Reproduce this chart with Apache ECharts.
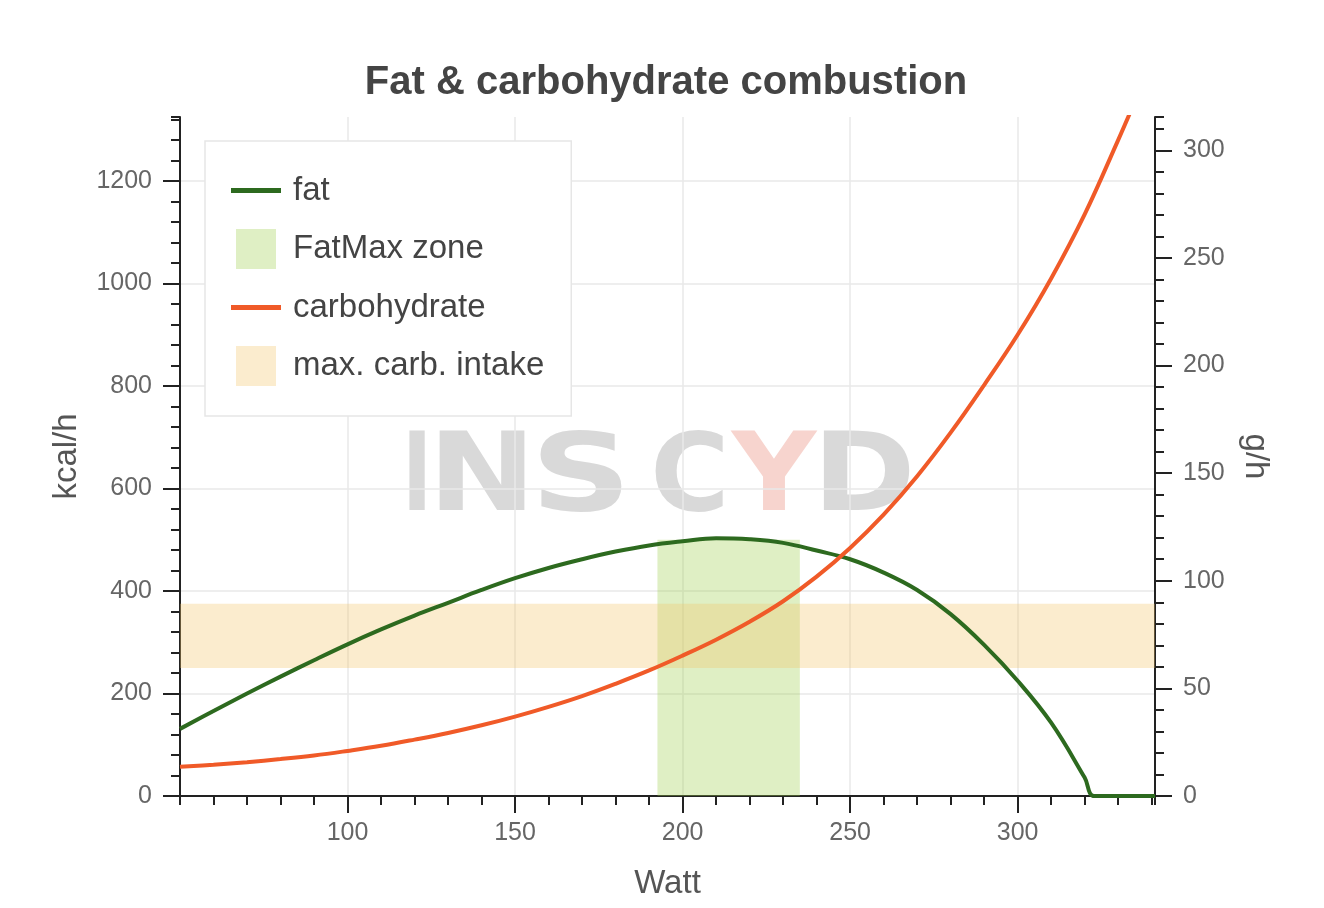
<!DOCTYPE html>
<html><head><meta charset="utf-8">
<script src="https://cdn.jsdelivr.net/npm/echarts@6/dist/echarts.min.js"></script>
<style>html,body{margin:0;padding:0;background:#fff}#c{width:1324px;height:908px}</style>
</head><body><div id="c"></div>
<script>
// ---- data ----
const fatWatts = [50,60,70,80,90,100,110,120,130,140,150,160,170,180,190,200,210,220,230,240,250,260,270,280,290,300,310,320,323,341];
const fatKcal  = [131,166,200,233,265,296,325,352,377,402,425,445,462,477,489,497,503,501,494,479,462,436,402,355,295,225,143,36,0,0];
const carbWatts = [50,60,70,80,90,100,110,120,130,140,150,160,170,180,190,200,210,220,230,240,250,260,270,280,290,300,310,320,330,334];
const carbKcal  = [57,61,66,72,79,88,98,110,123,138,155,174,195,219,245,274,305,340,380,428,484,549,624,709,802,900,1010,1135,1280,1340];
const fatMaxZoneWatts = [192.5, 235];
const fatMaxZoneTop = 500;
const carbIntakeKcal = [250, 375];
const xMajorTicks = [100,150,200,250,300];
const leftMajorTicks = [0,200,400,600,800,1000,1200];
const rightMajorTicks = [0,50,100,150,200,250,300];
const X_MIN = 50, X_MAX = 341, KCAL_MAX = 1325, KCAL_PER_G = 4.2;
const G_MAX = KCAL_MAX / KCAL_PER_G;

const FONT = 'Liberation Sans';
const AX = '#222';
const fatColor = '#2d6a1f', carbColor = '#f05a28';
const zoneColor = 'rgba(158,207,76,0.33)';
const bandColor = 'rgba(243,197,107,0.33)';
const gridBox = {left:180, right:169, top:117, bottom:112};
const plain = v => String(v);

const chart = echarts.init(document.getElementById('c'), null, {renderer:'canvas'});

function wmLetter(ch, x, sx, color){
  return {type:'text', x:x, y:482, scaleX:sx, z:0, silent:true,
    style:{text:ch, font:'bold 108px "DejaVu Sans"', fill:color,
      align:'center', verticalAlign:'middle', textAlign:'center', textVerticalAlign:'middle'}};
}
const grey = 'rgba(170,170,170,0.45)', pink = 'rgba(232,135,120,0.36)';
const lineIcon = 'path://M0,0H50V5H0Z';
const boxIcon = 'path://M0,0H40V40H0Z';

const option = {
  animation:false,
  backgroundColor:'#fff',
  title:{text:'Fat & carbohydrate combustion', left:661, top:58, textAlign:'center',
    textStyle:{fontSize:40, fontWeight:'bold', color:'#444', fontFamily:FONT}},
  graphic:[
    wmLetter('I',417,0.75,grey), wmLetter('N',482,1.2,grey), wmLetter('S',581,1.3,grey),
    wmLetter('C',690,1.0,grey), wmLetter('Y',774,1.08,pink), wmLetter('D',864,1.15,grey)
  ],
  legend:{
    orient:'vertical', left:205, top:141,
    itemWidth:50, itemHeight:40, itemGap:22,
    padding:[33,27,30,26],
    backgroundColor:'#fff', borderColor:'#e6e6e6', borderWidth:1.5,
    symbolKeepAspect:true,
    textStyle:{fontSize:33, color:'#444', fontFamily:FONT, padding:[0,0,0,7]},
    data:[
      {name:'fat', icon:lineIcon},
      {name:'FatMax zone', icon:boxIcon},
      {name:'carbohydrate', icon:lineIcon},
      {name:'max. carb. intake', icon:boxIcon}
    ]
  },
  grid:[Object.assign({}, gridBox), Object.assign({}, gridBox), Object.assign({}, gridBox)],
  xAxis:[
    {type:'value', gridIndex:0, min:X_MIN, max:X_MAX, interval:50,
      name:'Watt', nameLocation:'middle', nameGap:71,
      nameTextStyle:{fontSize:33, color:'#555', fontFamily:FONT},
      axisLine:{show:true, onZero:false, lineStyle:{color:AX, width:2}},
      axisTick:{show:true, customValues:xMajorTicks, length:17, lineStyle:{color:AX, width:2}},
      axisLabel:{customValues:xMajorTicks, formatter:plain, fontSize:25, color:'#666', margin:25, fontFamily:FONT},
      splitLine:{show:true, lineStyle:{color:'#e8e8e8', width:1.5}}},
    {type:'value', gridIndex:1, min:X_MIN, max:X_MAX, interval:10,
      axisLine:{show:false, onZero:false},
      axisTick:{show:true, length:9, lineStyle:{color:AX, width:2}},
      axisLabel:{show:false}, splitLine:{show:false}},
    {type:'value', gridIndex:2, min:X_MIN, max:X_MAX, show:false}
  ],
  yAxis:[
    {type:'value', gridIndex:0, position:'left', min:0, max:KCAL_MAX, interval:200,
      name:'kcal/h', nameLocation:'middle', nameGap:97, nameRotate:90,
      nameTextStyle:{fontSize:33, color:'#555', fontFamily:FONT},
      axisLine:{show:true, onZero:false, lineStyle:{color:AX, width:2}},
      axisTick:{show:true, customValues:leftMajorTicks, length:17, lineStyle:{color:AX, width:2}},
      axisLabel:{customValues:leftMajorTicks, formatter:plain, fontSize:25, color:'#666', margin:28, fontFamily:FONT},
      splitLine:{show:true, lineStyle:{color:'#e8e8e8', width:1.5}}},
    {type:'value', gridIndex:0, position:'right', min:0, max:G_MAX, interval:50,
      name:'g/h', nameLocation:'middle', nameGap:84, nameRotate:-90,
      nameTextStyle:{fontSize:33, color:'#555', fontFamily:FONT},
      axisLine:{show:true, onZero:false, lineStyle:{color:AX, width:2}},
      axisTick:{show:true, customValues:rightMajorTicks, length:17, lineStyle:{color:AX, width:2}},
      axisLabel:{customValues:rightMajorTicks, formatter:plain, fontSize:25, color:'#666', margin:28, fontFamily:FONT},
      splitLine:{show:false}},
    {type:'value', gridIndex:1, position:'left', min:0, max:KCAL_MAX, interval:40,
      axisLine:{show:false, onZero:false},
      axisTick:{show:true, length:9, lineStyle:{color:AX, width:2}},
      axisLabel:{show:false}, splitLine:{show:false}},
    {type:'value', gridIndex:2, position:'right', min:0, max:G_MAX, interval:10,
      axisLine:{show:false, onZero:false},
      axisTick:{show:true, length:9, lineStyle:{color:AX, width:2}},
      axisLabel:{show:false}, splitLine:{show:false}}
  ],
  series:[
    {name:'FatMax zone', type:'line', xAxisIndex:0, yAxisIndex:0, data:[], z:1,
      color:zoneColor, itemStyle:{color:zoneColor}, lineStyle:{width:0},
      markArea:{silent:true, itemStyle:{color:zoneColor},
        data:[[{coord:[fatMaxZoneWatts[0],0]},{coord:[fatMaxZoneWatts[1],fatMaxZoneTop]}]]}},
    {name:'max. carb. intake', type:'line', xAxisIndex:0, yAxisIndex:0, data:[], z:1,
      color:bandColor, itemStyle:{color:bandColor}, lineStyle:{width:0},
      markArea:{silent:true, itemStyle:{color:bandColor},
        data:[[{coord:[X_MIN,carbIntakeKcal[0]]},{coord:[X_MAX,carbIntakeKcal[1]]}]]}},
    {name:'fat', type:'line', xAxisIndex:0, yAxisIndex:0, z:3,
      data:fatWatts.map((w,i)=>[w,fatKcal[i]]),
      symbol:'none', smooth:0.4, color:fatColor, itemStyle:{color:fatColor}, lineStyle:{width:4, color:fatColor}},
    {name:'carbohydrate', type:'line', xAxisIndex:0, yAxisIndex:0, z:3,
      data:carbWatts.map((w,i)=>[w,carbKcal[i]]),
      symbol:'none', smooth:0.4, color:carbColor, itemStyle:{color:carbColor}, lineStyle:{width:4, color:carbColor}}
  ]
};
chart.setOption(option);
</script></body></html>
